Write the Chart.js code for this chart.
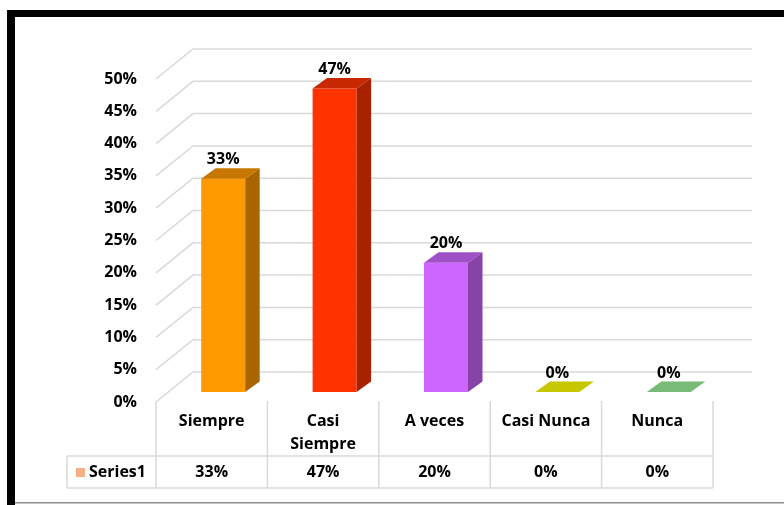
<!DOCTYPE html>
<html>
<head>
<meta charset="utf-8">
<script src="https://cdn.jsdelivr.net/npm/chart.js@4.4.0/dist/chart.umd.min.js"></script>
<style>
  html, body { margin: 0; padding: 0; background: #fff; }
  .chart-box { position: relative; width: 784px; height: 505px; }
</style>
</head>
<body>
<div class="chart-box"><canvas id="chart"></canvas></div>
<script>
// data
const categories = [['Siempre'], ['Casi', 'Siempre'], ['A veces'], ['Casi Nunca'], ['Nunca']];
const seriesName = 'Series1';
const values = [33, 47, 20, 0, 0];
const tickValues = [0, 5, 10, 15, 20, 25, 30, 35, 40, 45, 50];

// colours
const barColors = ['#ff9900', '#ff3300', '#cc66ff', '#ffff00', '#99f099'];
const legendSwatch = '#f4b183';
const gridColor = '#d9d9d9';

const FONT = '700 16px "Open Sans", sans-serif';
// offsets of the front edge, back wall and bar depth from the bar front plane
const FRONT = { dx: -11.5, dy: 10 };
const BACK = { dx: 25.5, dy: -20 };
const DEPTH = { dx: 14.5, dy: -10.5 };

function shade(hex, f) {
  const n = parseInt(hex.slice(1), 16);
  const r = Math.round(((n >> 16) & 255) * f);
  const g = Math.round(((n >> 8) & 255) * f);
  const b = Math.round((n & 255) * f);
  return `rgb(${r},${g},${b})`;
}

const fmt = v => v + '%';

const box3d = {
  id: 'box3d',
  beforeDraw(chart) {
    const ctx = chart.ctx;
    const xs = chart.scales.x;
    const ys = chart.scales.y;
    const step = xs.getPixelForValue(1) - xs.getPixelForValue(0);
    const left = xs.getPixelForValue(0) - step / 2;
    const right = xs.getPixelForValue(categories.length - 1) + step / 2;

    ctx.save();
    ctx.fillStyle = '#fff';
    ctx.fillRect(0, 0, chart.width, chart.height);

    // frame
    ctx.fillStyle = '#000';
    ctx.fillRect(7, 10, chart.width - 7, 7);
    ctx.fillRect(7, 10, 8, chart.height - 10);
    ctx.fillStyle = '#8c8c8c';
    ctx.fillRect(15, 502, chart.width - 15, 1.5);

    // back wall gridlines + side wall diagonals + tick labels
    ctx.strokeStyle = gridColor;
    ctx.lineWidth = 1.5;
    ctx.font = FONT;
    ctx.fillStyle = '#000';
    ctx.textAlign = 'right';
    ctx.textBaseline = 'middle';
    tickValues.forEach(v => {
      const py = ys.getPixelForValue(v);
      ctx.beginPath();
      ctx.moveTo(left + FRONT.dx, py + FRONT.dy);
      ctx.lineTo(left + BACK.dx, py + BACK.dy);
      ctx.lineTo(right + BACK.dx + 2, py + BACK.dy);
      ctx.stroke();
      ctx.fillText(fmt(v), left + FRONT.dx - 19, py + FRONT.dy);
    });

    // data table
    const x0 = left + FRONT.dx;
    const x1 = right + FRONT.dx;
    ctx.beginPath();
    for (let i = 0; i <= categories.length; i++) {
      const px = x0 + i * step;
      ctx.moveTo(px, 401);
      ctx.lineTo(px, 488);
    }
    ctx.moveTo(67, 456); ctx.lineTo(x1, 456);
    ctx.moveTo(67, 488); ctx.lineTo(x1, 488);
    ctx.moveTo(67, 456); ctx.lineTo(67, 488);
    ctx.stroke();

    ctx.textAlign = 'center';
    categories.forEach((lines, i) => {
      const cx = x0 + (i + 0.5) * step;
      lines.forEach((t, j) => ctx.fillText(t, cx, 421 + j * 23));
      ctx.fillText(fmt(values[i]), cx, 472);
    });

    ctx.fillStyle = legendSwatch;
    ctx.fillRect(76, 468, 9, 9);
    ctx.fillStyle = '#000';
    ctx.textAlign = 'left';
    ctx.fillText(seriesName, 89, 472);
    ctx.restore();
  },
  afterDatasetsDraw(chart) {
    const ctx = chart.ctx;
    const meta = chart.getDatasetMeta(0);
    ctx.save();
    meta.data.forEach((bar, i) => {
      const { x, y, base, width } = bar.getProps(['x', 'y', 'base', 'width'], true);
      const xa = x - width / 2;
      const xb = x + width / 2;
      // side face
      ctx.fillStyle = shade(barColors[i], 0.66);
      ctx.beginPath();
      ctx.moveTo(xb, y);
      ctx.lineTo(xb + DEPTH.dx, y + DEPTH.dy);
      ctx.lineTo(xb + DEPTH.dx, base + DEPTH.dy);
      ctx.lineTo(xb, base);
      ctx.closePath();
      ctx.fill();
      // top face
      ctx.fillStyle = shade(barColors[i], 0.78);
      ctx.beginPath();
      ctx.moveTo(xa, y);
      ctx.lineTo(xa + DEPTH.dx, y + DEPTH.dy);
      ctx.lineTo(xb + DEPTH.dx, y + DEPTH.dy);
      ctx.lineTo(xb, y);
      ctx.closePath();
      ctx.fill();
      // value label
      ctx.fillStyle = '#000';
      ctx.font = FONT;
      ctx.textAlign = 'center';
      ctx.textBaseline = 'alphabetic';
      ctx.fillText(fmt(values[i]), x, y + DEPTH.dy - 4);
    });
    ctx.restore();
  }
};

new Chart(document.getElementById('chart'), {
  type: 'bar',
  data: {
    labels: categories,
    datasets: [{
      label: seriesName,
      data: values,
      backgroundColor: barColors,
      borderWidth: 0,
      categoryPercentage: 1,
      barPercentage: 0.395
    }]
  },
  options: {
    responsive: true,
    maintainAspectRatio: false,
    animation: false,
    layout: { padding: { left: 167.5, right: 59.5, top: 69, bottom: 113 } },
    plugins: { legend: { display: false }, tooltip: { enabled: false } },
    scales: {
      x: { display: false },
      y: { display: false, min: 0, max: 50, ticks: { stepSize: 5 } }
    }
  },
  plugins: [box3d]
});
</script>
</body>
</html>
